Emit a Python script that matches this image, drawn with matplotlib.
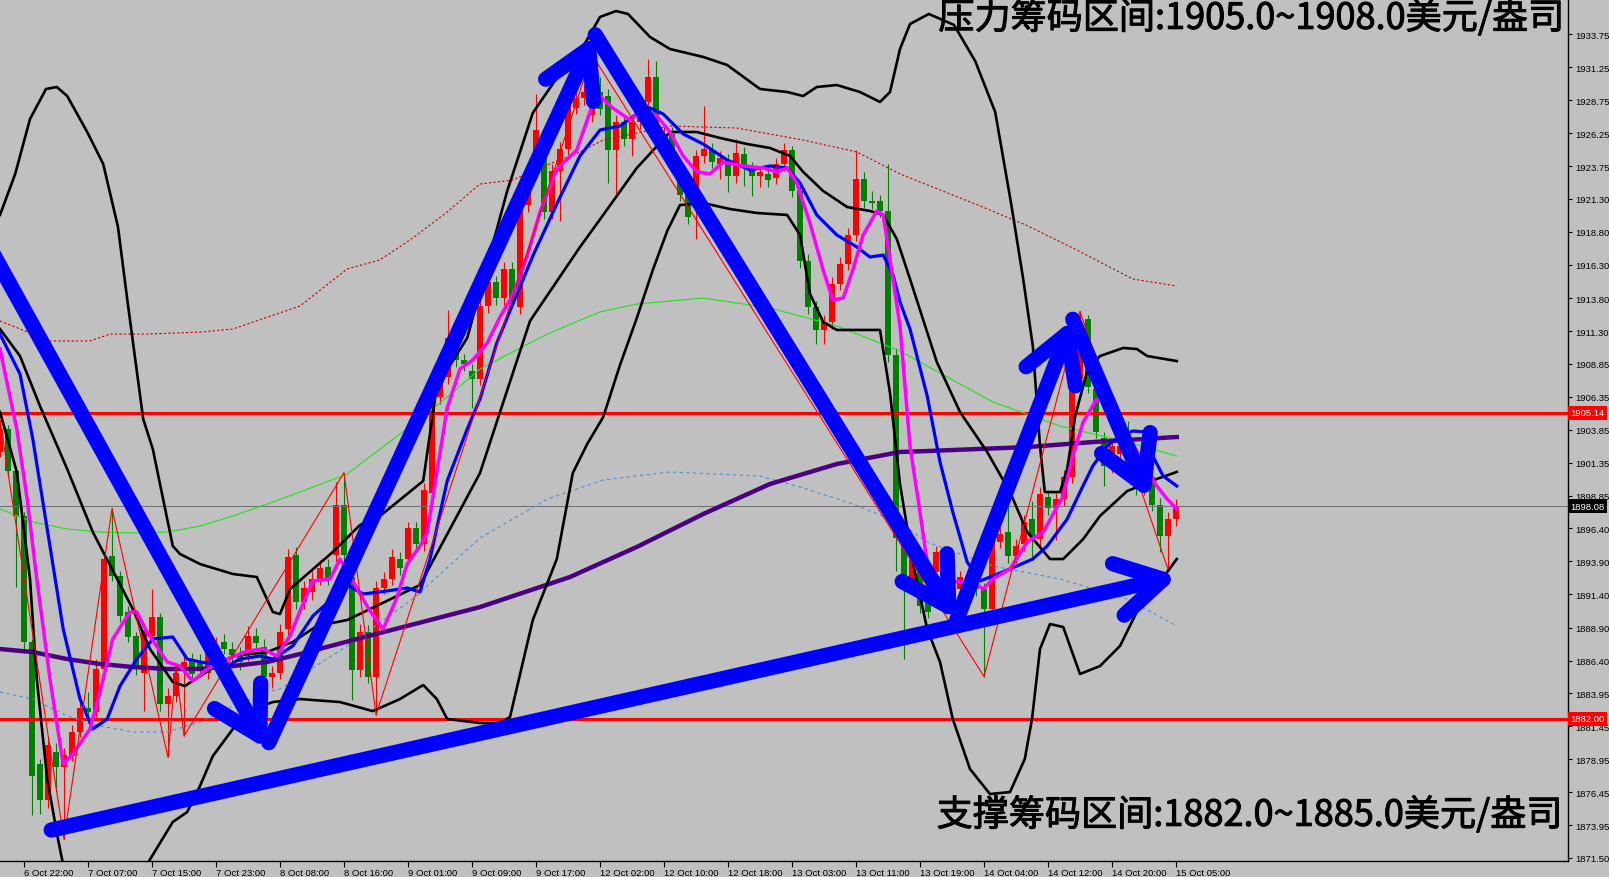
import matplotlib
matplotlib.use('Agg')
import matplotlib.pyplot as plt
import matplotlib.transforms as mtransforms
import matplotlib.patheffects as pe
from matplotlib.patches import FancyArrowPatch

plt.rcParams['font.family'] = ['Liberation Sans', 'DejaVu Sans']

BG = '#C0C0C0'

# ---------------- data (hourly XAUUSD bars, bar 0 = 6 Oct 22:00) ----------------
first_bar = -3
opens = [1902.2, 1903.9, 1900.7, 1897.3, 1887.8, 1878.6, 1875.9, 1879.5, 1878.4, 1879.2,
         1881.0, 1882.8, 1882.5, 1885.8, 1894.3, 1892.8, 1890.1, 1888.3, 1885.5, 1888.3,
         1889.7, 1883.1, 1883.7, 1885.8, 1886.4, 1886.3, 1885.5, 1886.9, 1887.8, 1887.3,
         1886.9, 1886.8, 1888.3, 1887.4, 1885.2, 1885.5, 1888.8, 1894.4, 1890.8, 1891.6,
         1892.6, 1893.5, 1894.4, 1898.2, 1892.7, 1885.7, 1888.6, 1885.2, 1891.9, 1892.6,
         1894.1, 1894.1, 1896.4, 1895.2, 1899.1, 1906.3, 1907.8, 1910.8, 1909.1, 1908.3,
         1907.7, 1913.2, 1915.0, 1913.8, 1916.0, 1913.1, 1920.8, 1923.3, 1925.2, 1920.3,
         1923.4, 1925.1, 1928.2, 1928.9, 1927.6, 1929.4, 1929.1, 1925.0, 1927.1, 1925.8,
         1927.1, 1928.6, 1930.5, 1925.7, 1926.2, 1923.6, 1921.6, 1921.6, 1924.5, 1925.0,
         1923.9, 1924.2, 1923.0, 1924.7, 1923.6, 1923.0, 1923.2, 1922.9, 1923.9, 1925.0,
         1921.9, 1916.6, 1913.1, 1911.4, 1912.0, 1914.9, 1916.4, 1918.6, 1922.8, 1921.1,
         1921.1, 1920.4, 1909.5, 1895.8, 1892.4, 1893.6, 1891.1, 1893.1, 1894.6, 1893.1,
         1891.8, 1892.7, 1893.3, 1891.8, 1890.3, 1895.4, 1896.1, 1894.3, 1895.2, 1897.1,
         1895.6, 1898.8, 1897.9, 1898.6, 1900.3, 1907.7, 1912.2, 1906.9, 1903.2, 1901.1,
         1902.0, 1902.6, 1900.9, 1899.4, 1900.3, 1898.2, 1895.8, 1897.1]
highs = [1904.6, 1904.2, 1901.0, 1897.6, 1888.0, 1879.0, 1880.6, 1880.2, 1879.8, 1881.5,
         1883.3, 1884.0, 1886.5, 1894.6, 1897.9, 1893.2, 1890.5, 1888.6, 1889.2, 1891.8,
         1890.0, 1884.3, 1886.0, 1886.8, 1887.0, 1886.9, 1887.6, 1888.2, 1888.4, 1887.8,
         1887.4, 1889.0, 1888.9, 1888.0, 1886.0, 1889.2, 1894.8, 1895.0, 1892.4, 1893.2,
         1894.0, 1894.1, 1899.9, 1900.6, 1893.2, 1889.2, 1889.1, 1892.4, 1893.1, 1894.8,
         1894.6, 1896.9, 1896.9, 1899.8, 1906.8, 1908.3, 1912.9, 1911.3, 1909.6, 1908.8,
         1913.7, 1915.5, 1915.5, 1916.5, 1916.5, 1921.3, 1924.1, 1929.2, 1925.7, 1923.9,
         1925.6, 1929.3, 1929.4, 1929.9, 1932.2, 1930.5, 1929.6, 1927.6, 1927.6, 1927.6,
         1929.1, 1931.9, 1931.7, 1926.7, 1926.7, 1924.1, 1922.1, 1925.0, 1928.3, 1925.5,
         1924.9, 1924.7, 1925.8, 1925.2, 1924.1, 1923.8, 1923.7, 1924.4, 1925.5, 1925.3,
         1922.4, 1917.1, 1913.6, 1912.5, 1915.4, 1916.9, 1919.1, 1925.0, 1923.3, 1921.9,
         1921.6, 1923.9, 1910.0, 1896.3, 1894.6, 1894.1, 1891.6, 1895.1, 1895.1, 1893.6,
         1893.2, 1893.2, 1893.8, 1892.3, 1895.9, 1896.5, 1899.0, 1895.6, 1897.4, 1898.5,
         1899.5, 1899.3, 1899.1, 1900.8, 1908.3, 1912.8, 1912.5, 1907.4, 1903.7, 1903.1,
         1903.4, 1904.5, 1901.4, 1900.8, 1900.8, 1898.7, 1897.6, 1898.6]
lows = [1901.8, 1900.3, 1892.0, 1887.0, 1874.7, 1874.8, 1875.3, 1876.5, 1872.9, 1878.8,
        1880.6, 1882.0, 1882.0, 1885.3, 1892.4, 1889.3, 1887.8, 1885.3, 1882.6, 1887.9,
        1882.6, 1879.1, 1883.3, 1880.7, 1884.8, 1885.2, 1885.0, 1886.4, 1886.9, 1886.3,
        1885.7, 1886.4, 1887.2, 1884.5, 1884.3, 1885.0, 1888.3, 1890.3, 1890.3, 1891.0,
        1892.1, 1892.1, 1893.9, 1893.9, 1883.4, 1885.2, 1884.7, 1882.3, 1891.4, 1892.1,
        1892.9, 1893.6, 1894.7, 1894.7, 1898.7, 1905.8, 1907.3, 1908.6, 1908.3, 1905.5,
        1907.2, 1912.7, 1913.3, 1913.3, 1913.2, 1912.6, 1920.3, 1922.8, 1919.8, 1919.8,
        1919.6, 1924.6, 1927.7, 1928.4, 1927.1, 1927.6, 1922.5, 1921.6, 1925.3, 1924.5,
        1926.6, 1928.1, 1926.2, 1925.2, 1923.4, 1921.1, 1919.4, 1918.3, 1924.0, 1923.6,
        1922.8, 1921.8, 1922.5, 1922.3, 1921.5, 1922.2, 1922.2, 1922.4, 1923.4, 1921.4,
        1916.1, 1912.6, 1910.3, 1910.3, 1911.5, 1914.4, 1915.9, 1918.1, 1920.6, 1920.5,
        1919.9, 1909.0, 1893.2, 1886.5, 1891.9, 1890.0, 1889.6, 1892.6, 1892.6, 1891.3,
        1890.8, 1890.9, 1891.3, 1885.2, 1889.8, 1894.9, 1893.8, 1893.8, 1894.7, 1894.0,
        1895.1, 1897.4, 1895.5, 1898.1, 1899.8, 1907.2, 1906.6, 1903.2, 1899.6, 1900.6,
        1901.5, 1900.4, 1898.9, 1898.9, 1897.7, 1894.6, 1893.3, 1896.6]
closes = [1903.9, 1900.7, 1897.3, 1887.8, 1877.7, 1875.9, 1880.0, 1878.4, 1879.3, 1881.0,
          1882.8, 1882.5, 1885.8, 1894.1, 1892.8, 1889.8, 1888.2, 1885.8, 1888.6, 1889.7,
          1883.1, 1883.7, 1885.5, 1886.3, 1885.4, 1885.9, 1887.1, 1887.3, 1887.3, 1886.8,
          1886.3, 1888.3, 1887.7, 1885.2, 1885.5, 1888.6, 1894.2, 1890.8, 1891.9, 1892.6,
          1893.4, 1892.6, 1898.2, 1894.4, 1885.7, 1888.6, 1885.2, 1891.9, 1892.6, 1894.2,
          1893.4, 1896.4, 1895.2, 1899.3, 1906.3, 1907.8, 1910.8, 1909.1, 1908.8, 1907.7,
          1913.2, 1915.0, 1913.8, 1916.0, 1913.7, 1920.8, 1923.6, 1926.5, 1920.3, 1923.4,
          1925.1, 1928.8, 1928.9, 1929.4, 1929.4, 1928.1, 1925.0, 1927.1, 1925.8, 1927.1,
          1928.6, 1930.5, 1926.7, 1926.2, 1923.9, 1921.6, 1919.9, 1924.5, 1925.1, 1924.1,
          1924.4, 1923.0, 1924.8, 1923.6, 1923.0, 1923.3, 1922.7, 1923.9, 1925.0, 1921.9,
          1916.6, 1913.1, 1911.4, 1912.0, 1914.9, 1916.4, 1918.6, 1922.8, 1921.1, 1921.0,
          1920.4, 1909.5, 1895.7, 1892.4, 1894.1, 1890.5, 1890.1, 1894.6, 1893.1, 1891.8,
          1892.7, 1891.4, 1891.8, 1890.3, 1895.4, 1896.0, 1894.3, 1895.1, 1896.9, 1895.8,
          1899.0, 1897.9, 1898.6, 1900.3, 1907.8, 1909.7, 1907.1, 1903.7, 1901.1, 1902.6,
          1902.6, 1900.9, 1899.4, 1900.3, 1898.2, 1895.8, 1897.1, 1898.1]

time_bars = [0, 8, 16, 24, 32, 40, 48, 56, 64, 72, 80, 88, 96, 104, 112, 120, 128, 136, 144]
time_labels = ['6 Oct 22:00', '7 Oct 07:00', '7 Oct 15:00', '7 Oct 23:00', '8 Oct 08:00',
               '8 Oct 16:00', '9 Oct 01:00', '9 Oct 09:00', '9 Oct 17:00', '12 Oct 02:00',
               '12 Oct 10:00', '12 Oct 18:00', '13 Oct 03:00', '13 Oct 11:00', '13 Oct 19:00',
               '14 Oct 04:00', '14 Oct 12:00', '14 Oct 20:00', '15 Oct 05:00']

price_ticks = [1933.75, 1931.25, 1928.75, 1926.25, 1923.75, 1921.30, 1918.80, 1916.30,
               1913.80, 1911.30, 1908.85, 1906.35, 1903.85, 1901.35, 1898.85, 1896.40,
               1893.90, 1891.40, 1888.90, 1886.40, 1883.95, 1881.45, 1878.95, 1876.45,
               1873.95, 1871.50]

resist_level = 1905.14
support_level = 1882.00
last_price = 1898.08

# indicator lines at key bars
bb_up_x = [-3.0, -1.1, 0.75, 2.75, 4.1, 5.4, 7.9, 9.9, 11.75, 12.9, 14.9, 16.1, 18.6, 19.5,
           22.0, 26.1, 29.1, 31.1, 32.0, 33.25, 38.6, 42.0, 44.5, 49.9, 51.6, 55.4, 60.4,
           63.6, 66.6, 69.5, 72.0, 74.0, 75.5, 78.25, 80.75, 84.9, 87.9, 92.0, 95.4, 97.4,
           99.1, 101.6, 104.5, 107.0, 108.25, 109.5, 110.75, 113.1, 116.25, 118.9, 121.4,
           123.4, 124.9, 126.1, 127.0, 127.6, 129.5, 130.4, 131.4, 132.9, 134.5, 137.4,
           139.1, 140.4, 144.1]
bb_up_y = [1920.08, 1923.18, 1927.33, 1929.60, 1929.75, 1929.07, 1926.35, 1923.93, 1919.17,
           1913.73, 1904.66, 1902.39, 1895.06, 1894.46, 1893.70, 1892.95, 1892.72, 1890.08,
           1889.92, 1891.81, 1894.61, 1896.65, 1897.33, 1899.98, 1907.15, 1910.78, 1921.89,
           1927.79, 1930.43, 1932.39, 1935.04, 1935.49, 1935.27, 1933.53, 1932.62, 1932.02,
           1931.41, 1929.60, 1929.37, 1929.07, 1929.75, 1929.90, 1929.37, 1928.62, 1929.37,
           1932.62, 1934.51, 1935.27, 1934.44, 1931.71, 1927.86, 1920.91, 1915.24, 1910.18,
           1902.62, 1899.14, 1899.14, 1900.88, 1904.89, 1908.29, 1909.42, 1910.03, 1909.95,
           1909.42, 1909.04]

bb_mid_x = [-3.0, -0.5, 2.0, 5.4, 8.6, 13.6, 15.75, 18.6, 20.1, 22.0, 26.1, 30.4, 33.6, 36.6,
            40.4, 49.5, 57.0, 63.25, 69.5, 72.4, 76.6, 80.75, 84.1, 87.0, 90.4, 93.25, 95.75,
            97.4, 99.9, 102.9, 105.75, 107.4, 109.1, 110.75, 114.1, 117.0, 120.4, 123.25,
            125.4, 128.25, 129.9, 132.4, 134.5, 137.9, 139.5, 141.6, 144.1]
bb_mid_y = [1911.46, 1909.42, 1905.64, 1900.88, 1896.12, 1890.30, 1887.28, 1884.79, 1884.48,
            1885.24, 1886.75, 1887.05, 1887.81, 1889.02, 1889.47, 1892.12, 1900.58, 1912.07,
            1917.66, 1920.08, 1923.63, 1926.35, 1926.35, 1925.90, 1925.44, 1925.14, 1924.54,
            1923.33, 1921.89, 1920.68, 1920.38, 1920.08, 1918.26, 1915.24, 1908.97, 1905.19,
            1902.17, 1899.14, 1896.12, 1894.08, 1894.08, 1895.59, 1897.33, 1899.22, 1899.60,
            1900.13, 1900.66]

bb_low_x = [-3.0, -0.9, 0.75, 1.6, 2.9, 4.25, 5.25, 9.5, 15.4, 18.6, 20.4, 22.0, 23.6, 26.1,
            28.6, 31.1, 34.5, 39.5, 43.6, 47.0, 49.9, 51.6, 52.9, 57.0, 59.5, 60.75, 63.6,
            66.6, 68.6, 70.4, 72.4, 74.5, 76.6, 78.6, 80.4, 82.0, 84.9, 88.25, 91.6, 95.4,
            97.0, 98.25, 99.9, 101.6, 107.0, 108.25, 109.5, 111.1, 112.9, 114.5, 116.1,
            118.25, 120.75, 123.25, 125.1, 126.0, 127.0, 128.25, 129.9, 132.0, 134.5, 137.0,
            139.1, 140.4, 144.1]
bb_low_y = [1905.19, 1900.66, 1892.57, 1885.01, 1877.46, 1872.92, 1869.90, 1866.12, 1871.03,
            1874.21, 1874.96, 1876.93, 1879.19, 1881.23, 1882.75, 1883.27, 1883.50, 1883.27,
            1882.59, 1883.50, 1884.56, 1883.50, 1881.99, 1881.69, 1881.69, 1882.14, 1889.47,
            1894.08, 1900.58, 1902.77, 1904.81, 1908.74, 1912.29, 1915.92, 1918.87, 1920.83,
            1920.98, 1920.53, 1920.23, 1920.08, 1918.57, 1914.11, 1911.99, 1911.39, 1911.39,
            1906.63, 1899.75, 1893.85, 1888.79, 1886.30, 1881.99, 1878.21, 1876.32, 1876.47,
            1878.97, 1881.99, 1887.28, 1889.17, 1888.94, 1885.39, 1885.99, 1887.51, 1890.08,
            1891.06, 1894.08]

ma_blue_x = [-3.0, -0.5, 1.1, 2.9, 4.9, 7.0, 8.6, 10.4, 12.0, 14.1, 16.1, 18.6, 20.4, 22.0,
             25.4, 27.0, 29.5, 31.1, 33.6, 36.1, 40.4, 42.4, 44.5, 47.9, 49.5, 50.75, 52.9,
             55.4, 57.0, 59.1, 61.1, 63.6, 66.6, 69.5, 72.0, 74.5, 76.6, 78.25, 79.9, 82.4,
             84.9, 87.9, 90.75, 93.25, 95.4, 97.0, 99.1, 101.6, 104.1, 105.75, 107.4, 108.6,
             109.5, 110.75, 112.9, 114.5, 116.1, 117.9, 119.5, 121.1, 123.25, 126.1, 127.9,
             130.4, 132.0, 133.6, 135.4, 137.0, 138.6, 140.4, 141.1, 142.4, 144.1]
ma_blue_y = [1911.08, 1908.06, 1903.15, 1896.35, 1888.79, 1883.50, 1881.23, 1881.99, 1884.48,
             1886.52, 1888.04, 1888.19, 1886.52, 1886.30, 1885.99, 1886.52, 1886.75, 1886.52,
             1887.51, 1889.77, 1892.12, 1891.44, 1891.59, 1891.89, 1891.59, 1894.08, 1899.98,
             1903.90, 1906.17, 1910.40, 1913.35, 1916.98, 1920.91, 1924.54, 1926.50, 1926.80,
             1927.71, 1928.16, 1927.71, 1926.20, 1925.44, 1924.23, 1923.48, 1923.78, 1923.63,
             1922.50, 1920.08, 1918.57, 1917.66, 1916.90, 1917.05, 1915.62, 1913.50, 1911.46,
             1906.40, 1901.41, 1897.63, 1893.85, 1892.42, 1892.80, 1893.33, 1894.08, 1895.06,
             1897.10, 1899.14, 1901.11, 1902.62, 1903.38, 1903.75, 1903.68, 1901.86, 1900.35,
             1899.60]

ma_pink_x = [-3.0, -0.9, 0.4, 1.6, 3.25, 4.9, 6.1, 8.25, 9.5, 11.1, 13.25, 14.1, 15.4, 17.9,
             19.5, 21.1, 22.9, 25.4, 27.9, 29.9, 31.6, 33.25, 34.5, 36.1, 38.25, 39.5, 41.1,
             43.25, 44.9, 46.6, 47.9, 49.5, 50.4, 51.6, 52.9, 54.5, 56.1, 57.9, 59.5, 61.1,
             62.9, 64.5, 66.6, 69.1, 71.1, 72.0, 73.6, 75.75, 77.4, 79.1, 80.75, 82.4, 84.1,
             85.75, 87.4, 89.9, 92.4, 94.1, 95.4, 96.6, 98.25, 99.9, 101.1, 102.4, 103.6,
             104.9, 106.6, 107.4, 108.25, 109.5, 110.75, 112.0, 112.9, 114.1, 117.0, 118.6,
             119.9, 121.1, 123.25, 125.4, 127.4, 129.9, 131.1, 132.4, 134.1, 135.75, 138.25,
             140.4, 141.6, 142.9, 144.1]
ma_pink_y = [1909.95, 1903.90, 1898.61, 1892.57, 1885.01, 1878.59, 1879.35, 1881.23, 1884.03,
             1888.04, 1890.08, 1890.08, 1888.56, 1886.30, 1885.99, 1884.86, 1885.77, 1886.52,
             1887.13, 1887.28, 1886.75, 1888.26, 1890.15, 1892.42, 1892.57, 1894.08, 1892.42,
             1890.15, 1888.79, 1891.13, 1893.70, 1895.06, 1896.05, 1900.58, 1905.49, 1908.44,
             1909.12, 1910.40, 1912.37, 1914.03, 1916.98, 1920.30, 1923.55, 1924.99, 1928.47,
             1929.07, 1928.16, 1927.26, 1928.01, 1927.56, 1926.35, 1924.54, 1923.33, 1923.18,
             1924.08, 1923.78, 1923.63, 1923.33, 1923.63, 1922.50, 1919.47, 1915.92, 1913.65,
             1913.80, 1915.92, 1918.57, 1920.38, 1920.08, 1916.75, 1911.69, 1902.62, 1897.63,
             1893.85, 1892.57, 1892.34, 1892.34, 1891.81, 1892.57, 1893.33, 1895.37, 1896.12,
             1898.84, 1901.86, 1904.43, 1906.17, 1905.79, 1903.15, 1900.88, 1899.60, 1898.61,
             1897.86]

ma_purple_x = [-3.0, 1.1, 5.4, 9.5, 13.6, 17.9, 22.0, 26.1, 30.4, 34.5, 44.5, 57.0, 68.25,
               76.6, 84.9, 93.25, 101.6, 109.5, 112.9, 125.4, 133.6, 144.1]
ma_purple_y = [1887.28, 1887.05, 1886.52, 1886.15, 1885.92, 1885.77, 1885.77, 1885.99,
               1886.30, 1886.90, 1888.49, 1890.45, 1892.72, 1894.99, 1897.48, 1899.75,
               1901.26, 1902.17, 1902.24, 1902.54, 1902.92, 1903.30]

ma_green_x = [-3.0, 1.1, 5.4, 9.5, 13.6, 17.9, 22.0, 26.1, 30.4, 34.5, 40.4, 47.0, 52.0,
              57.0, 65.4, 72.0, 76.6, 84.9, 93.25, 101.6, 109.5, 112.9, 121.1, 129.5, 137.9,
              144.1]
ma_green_y = [1897.86, 1896.88, 1896.35, 1896.12, 1896.05, 1896.12, 1896.57, 1897.33,
              1898.24, 1899.14, 1900.50, 1903.53, 1905.87, 1908.44, 1911.08, 1912.75,
              1913.35, 1913.80, 1913.05, 1911.69, 1909.80, 1908.67, 1905.95, 1904.13,
              1902.92, 1901.86]

env_up_x = [-3.0, 3.25, 8.25, 10.75, 15.4, 22.0, 26.1, 34.5, 40.4, 44.5, 48.6, 52.9, 57.0,
            61.1, 65.4, 69.5, 72.4, 80.75, 89.1, 97.4, 104.1, 109.5, 118.9, 125.25, 131.6,
            138.6, 144.1]
env_up_y = [1912.07, 1910.56, 1910.56, 1911.08, 1911.08, 1911.23, 1911.46, 1913.20, 1916.00,
            1916.68, 1918.34, 1920.30, 1922.42, 1922.72, 1923.86, 1924.84, 1925.74, 1926.80,
            1926.65, 1925.74, 1924.84, 1923.18, 1920.91, 1919.32, 1917.43, 1915.24, 1914.71]

env_low_x = [-3.0, 1.1, 5.4, 9.5, 13.6, 17.9, 22.0, 26.1, 30.4, 32.0, 40.4, 48.6, 57.0,
             65.4, 72.4, 80.75, 92.0, 97.4, 103.6, 109.5, 112.9, 121.1, 129.5, 137.9, 144.1]
env_low_y = [1884.03, 1883.50, 1882.22, 1881.46, 1881.01, 1881.01, 1881.76, 1882.97,
             1884.03, 1884.26, 1887.51, 1891.06, 1895.67, 1898.61, 1900.05, 1900.66,
             1900.35, 1899.45, 1898.24, 1896.80, 1895.37, 1893.55, 1892.57, 1891.06,
             1889.02]

# zigzag turning bars ('H' = bar high, 'L' = bar low)
zz_bars = [-3, 5, 11, 18, 19, 20, 40, 44, 71, 120, 132, 143]
zz_kind = ['H', 'L', 'H', 'L', 'H', 'L', 'H', 'L', 'H', 'L', 'H', 'L']

# hand-drawn trend arrows: (start bar, start price, end bar, end price)
arrow_x0 = [-4.0, 30.6, 71.4, 116.6, 131.1, 3.4]
arrow_y0 = [1917.3, 1880.2, 1933.7, 1889.5, 1912.2, 1873.6]
arrow_x1 = [30.4, 71.4, 116.6, 131.1, 140.75, 144.25]
arrow_y1 = [1879.7, 1933.7, 1889.5, 1912.2, 1898.6, 1892.8]

resist_text = '压力筹码区间:1905.0~1908.0美元/盎司'
support_text = '支撑筹码区间:1882.0~1885.0美元/盎司'

# ---------------- figure ----------------
W, H = 1609, 878
fig = plt.figure(figsize=(W / 100, H / 100), dpi=100, facecolor=BG)
ax = fig.add_axes([0, 16 / H, 1568 / W, 862 / H], facecolor=BG)
ax.set_xlim(-3, 193)
ax.set_ylim(1871.26, 1936.40)

# candles (red = up, green = down)
bars = list(range(first_bar, first_bar + len(closes)))
cols = ['#FF0000' if c >= o else '#008000' for o, c in zip(opens, closes)]
ax.vlines(bars, lows, highs, colors=cols, lw=0.8, zorder=2)
body_h = [max(abs(c - o), 0.06) for o, c in zip(opens, closes)]
body_b = [min(o, c) for o, c in zip(opens, closes)]
ax.bar(bars, body_h, bottom=body_b, width=0.64, color=cols, lw=0, zorder=2)

# horizontal levels
ax.axhline(last_price, color='#6E6E6E', lw=0.7, zorder=2.5)
ax.axhline(resist_level, color='#FF0000', lw=2.2, zorder=3)
ax.axhline(support_level, color='#FF0000', lw=2.2, zorder=3)

# indicators
ax.plot(env_up_x, env_up_y, color='#C00000', lw=0.8, ls=(0, (2, 2)), zorder=3)
ax.plot(env_low_x, env_low_y, color='#4F8FD0', lw=0.8, ls=(0, (3, 3)), zorder=3)
ax.plot(ma_green_x, ma_green_y, color='#22E022', lw=0.8, zorder=3)
ax.plot(ma_purple_x, ma_purple_y, color='#4B0082', lw=3.2, zorder=3)
for bx, by in [(bb_up_x, bb_up_y), (bb_mid_x, bb_mid_y), (bb_low_x, bb_low_y)]:
    ax.plot(bx, by, color='black', lw=1.9, zorder=3.2)
ax.plot(ma_blue_x, ma_blue_y, color='#0000FF', lw=2.3, zorder=3.4)
ax.plot(ma_pink_x, ma_pink_y, color='#FF00FF', lw=2.5, zorder=3.5)

# zigzag
zz_y = [highs[b - first_bar] if k == 'H' else lows[b - first_bar]
        for b, k in zip(zz_bars, zz_kind)]
ax.plot(zz_bars, zz_y, color='#FF0000', lw=0.8, zorder=3.6)

# big blue arrows
for x0, y0, x1, y1 in zip(arrow_x0, arrow_y0, arrow_x1, arrow_y1):
    arr = FancyArrowPatch((x0, y0), (x1, y1),
                          arrowstyle='->,head_length=0.33,head_width=0.19',
                          mutation_scale=100, color='#0000FF', lw=11,
                          capstyle='round', joinstyle='round',
                          shrinkA=0, shrinkB=0, zorder=5)
    ax.add_patch(arr)

# axes styling
for s in ['left', 'top']:
    ax.spines[s].set_visible(False)
for s in ['right', 'bottom']:
    ax.spines[s].set_color('black')
    ax.spines[s].set_linewidth(1.0)
ax.yaxis.tick_right()
ax.set_yticks(price_ticks)
ax.set_yticklabels([f'{p:.2f}' for p in price_ticks])
ax.tick_params(axis='y', length=3, width=0.8, labelsize=6.8, pad=2, colors='black')
ax.set_xticks(time_bars)
ax.set_xticklabels(time_labels, ha='left')
ax.tick_params(axis='x', length=4, width=0.8, labelsize=6.8, pad=1, colors='black')

# price boxes on the scale
trans = mtransforms.blended_transform_factory(ax.transAxes, ax.transData)
for lvl, fc in [(resist_level, '#FF0000'), (support_level, '#FF0000'), (last_price, 'black')]:
    ax.text(1.0015, lvl, f'{lvl:.2f}', transform=trans, color='white', fontsize=6.8,
            ha='left', va='center', clip_on=False, zorder=6,
            bbox=dict(boxstyle='square,pad=0.25', fc=fc, ec='none'))

# zone captions (slightly heavier stroke like the original)
bold_fx = [pe.withStroke(linewidth=0.7, foreground='black')]
fig.text(1564 / W, 1 - 19 / H, resist_text, ha='right', va='center', fontsize=26,
         family=['Noto Sans CJK SC', 'DejaVu Sans'], color='black', zorder=10,
         path_effects=bold_fx)
fig.text(1562 / W, 1 - 816 / H, support_text, ha='right', va='center', fontsize=26,
         family=['Noto Sans CJK SC', 'DejaVu Sans'], color='black', zorder=10,
         path_effects=bold_fx)

fig.savefig('out.png', dpi=100, facecolor=BG)
